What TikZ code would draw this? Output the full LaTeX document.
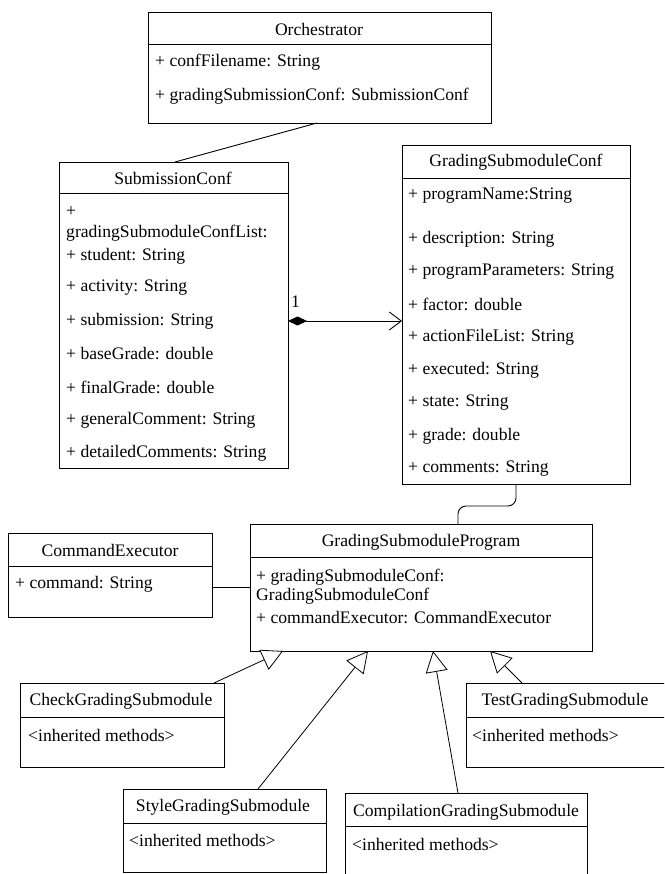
\documentclass[tikz,border=0pt]{standalone}
\usepackage{fontspec}
\setmainfont{Liberation Serif}
\usetikzlibrary{arrows.meta}
\begin{document}
\begin{tikzpicture}[x=1pt,y=-1pt,
  box/.style={draw, line width=0.9pt, anchor=north west, inner sep=0pt, outer sep=0pt},
  txt/.style={anchor=west, inner sep=0pt, font=\fontsize{17.6}{20}\selectfont},
  ttl/.style={anchor=center, inner sep=0pt, font=\fontsize{17.6}{20}\selectfont},
  conn/.style={line width=0.9pt},
  inh/.style={line width=0.8pt, -{Triangle[open, length=21pt, width=22pt, fill=white]}}]
\useasboundingbox (0,0) rectangle (664,874);
\clip (0,0) rectangle (664,874);
\fill[white] (0,0) rectangle (664,874);

% Orchestrator
\node[box, minimum width=343pt, minimum height=111pt] (orch) at (148,12) {};
\draw[conn] (orch.west |- 0,44) -- (orch.east |- 0,44);
\node[ttl] (orcht) at (319,29) {Orchestrator};
\node[txt] (orc1) at (155,62) {+ confFilename: String};
\node[txt] (orc2) at (155,96) {+ gradingSubmissionConf: SubmissionConf};

% SubmissionConf
\node[box, minimum width=229pt, minimum height=306pt] (sub) at (59,162) {};
\draw[conn] (sub.west |- 0,193) -- (sub.east |- 0,193);
\node[ttl] (subt) at (173,178) {SubmissionConf};
\node[txt] (s0) at (66,212) {+};
\node[txt] (s1) at (66,233) {gradingSubmoduleConfList:};
\node[txt] (s2) at (66,256) {+ student: String};
\node[txt] (s3) at (66,288) {+ activity: String};
\node[txt] (s4) at (66,321) {+ submission: String};
\node[txt] (s5) at (66,354) {+ baseGrade: double};
\node[txt] (s6) at (66,387) {+ finalGrade: double};
\node[txt] (s7) at (66,420) {+ generalComment: String};
\node[txt] (s8) at (66,453) {+ detailedComments: String};

% GradingSubmoduleConf
\node[box, minimum width=228pt, minimum height=339pt] (gsc) at (402,145) {};
\draw[conn] (gsc.west |- 0,178) -- (gsc.east |- 0,178);
\node[ttl] (gsct) at (516,162) {GradingSubmoduleConf};
\node[txt] (g1) at (408,196) {+ programName:String};
\node[txt] (g2) at (408,239) {+ description: String};
\node[txt] (g3) at (408,272) {+ programParameters: String};
\node[txt] (g4) at (408,304) {+ factor: double};
\node[txt] (g5) at (408,337) {+ actionFileList: String};
\node[txt] (g6) at (408,370) {+ executed: String};
\node[txt] (g7) at (408,403) {+ state: String};
\node[txt] (g8) at (408,436) {+ grade: double};
\node[txt] (g9) at (408,469) {+ comments: String};

% CommandExecutor
\node[box, minimum width=204pt, minimum height=84pt] (ce) at (8,533) {};
\draw[conn] (ce.west |- 0,566) -- (ce.east |- 0,566);
\node[ttl] (cet) at (110,550) {CommandExecutor};
\node[txt] (ce1) at (15,584) {+ command: String};

% GradingSubmoduleProgram
\node[box, minimum width=342pt, minimum height=127pt] (gsp) at (250,524) {};
\draw[conn] (gsp.west |- 0,557) -- (gsp.east |- 0,557);
\node[ttl] (gspt) at (421,542) {GradingSubmoduleProgram};
\node[txt] (p1) at (256,577) {+ gradingSubmoduleConf:};
\node[txt] (p2) at (256,596) {GradingSubmoduleConf};
\node[txt] (p3) at (256,618) {+ commandExecutor: CommandExecutor};

% CheckGradingSubmodule
\node[box, minimum width=204pt, minimum height=84pt] (check) at (20,683) {};
\draw[conn] (check.west |- 0,717) -- (check.east |- 0,717);
\node[ttl] (checkt) at (121,701) {CheckGradingSubmodule};
\node[txt] (check1) at (28,735) {<inherited methods>};

% TestGradingSubmodule
\node[box, minimum width=202pt, minimum height=84pt] (test) at (466,683) {};
\draw[conn] (test.west |- 0,717) -- (test.east |- 0,717);
\node[ttl] (testt) at (565,701) {TestGradingSubmodule};
\node[txt] (test1) at (472,735) {<inherited methods>};

% StyleGradingSubmodule
\node[box, minimum width=203pt, minimum height=83pt] (style) at (123,789) {};
\draw[conn] (style.west |- 0,823) -- (style.east |- 0,823);
\node[ttl] (stylet) at (223,807) {StyleGradingSubmodule};
\node[txt] (style1) at (129,840) {<inherited methods>};

% CompilationGradingSubmodule
\node[box, minimum width=242pt, minimum height=110pt] (comp) at (345,793) {};
\draw[conn] (comp.west |- 0,826) -- (comp.east |- 0,826);
\node[ttl] (compt) at (466,812) {CompilationGradingSubmodule};
\node[txt] (comp1) at (352,844) {<inherited methods>};

% connectors
\draw[conn] ([xshift=169pt]orch.south west) -- ([xshift=116pt]sub.north west);
\draw[conn, {Diamond[length=19pt, width=9pt]}-{Straight Barb[length=12pt, width=18pt]}]
  (sub.east |- 0,321) -- (gsc.west |- 0,321);
\node[txt] (mult) at (291,302) {1};
\draw[conn, rounded corners=8pt] (gsc.south) -- ++(0,22) -| ([xshift=208pt]gsp.north west);
\draw[conn] (ce.east |- 0,587) -- (gsp.west |- 0,587);

\draw[inh] ([xshift=194pt]check.north west) -- ([xshift=33pt]gsp.south west);
\draw[inh] ([xshift=135pt]style.north west) -- ([xshift=118pt]gsp.south west);
\draw[inh] ([xshift=113pt]comp.north west) -- ([xshift=183pt]gsp.south west);
\draw[inh] ([xshift=56pt]test.north west) -- ([xshift=240pt]gsp.south west);
\end{tikzpicture}
\end{document}
